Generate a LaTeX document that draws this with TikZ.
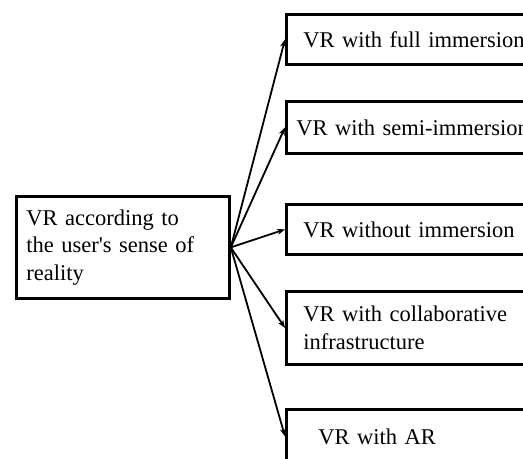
\documentclass[tikz,border=0pt]{standalone}
\usepackage{fontspec}
\setmainfont{Liberation Serif}
\usetikzlibrary{arrows.meta}

\begin{document}
\begin{tikzpicture}[x=1bp,y=-1bp,>={Stealth[length=8bp,width=6bp]},
  font=\fontsize{22.5bp}{27.5bp}\selectfont,
  box/.style={draw,line width=2.8bp,rectangle,anchor=north west,align=left,inner ysep=0pt,minimum width=315bp},
  link/.style={->,line width=1.8bp}]
\path[use as bounding box] (0,0) rectangle (523,459);
\fill[white] (0,0) rectangle (523,459);
\begin{scope}
\clip (0,0) rectangle (523,459);
% the class on the left
\node[box,minimum width=213bp,minimum height=102bp,inner xsep=10bp,text width=193bp] (root) at (15,195)
  {VR according to\\the user\textquotesingle s sense of\\reality};
% the five kinds, their right ends run off the page
\node[box,minimum height=50bp,inner xsep=17bp,text width=281bp] (full) at (285,13) {VR with full immersion};
\node[box,minimum height=52bp,inner xsep=10bp,text width=295bp] (semi) at (285,100) {VR with semi-immersion};
\node[box,minimum height=50bp,inner xsep=17bp,text width=281bp] (noimm) at (285,203) {VR without immersion};
\node[box,minimum height=73bp,inner xsep=17bp,text width=281bp] (collab) at (285,290)
  {VR with collaborative\\infrastructure};
\node[box,minimum height=54bp,inner xsep=32bp,text width=251bp] (aug) at (285,408) {VR with AR};
\foreach \kind in {full,semi,noimm,collab,aug}
  \draw[link] (root.east) -- (\kind.west);
\end{scope}
\end{tikzpicture}
\end{document}
